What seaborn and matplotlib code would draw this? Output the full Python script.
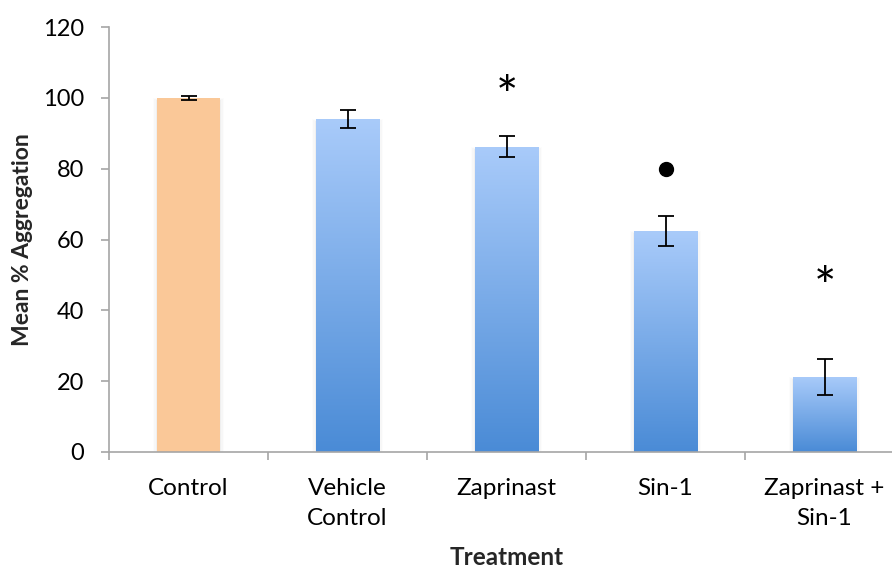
import numpy as np
import pandas as pd
import matplotlib
matplotlib.use("Agg")
import matplotlib.pyplot as plt
import matplotlib.patches as mpatches
from matplotlib.colors import LinearSegmentedColormap
import seaborn as sns

# Platelet aggregation by treatment
treatments = ["Control", "Vehicle\nControl", "Zaprinast", "Sin-1", "Zaprinast +\nSin-1"]
mean_aggregation = [100.0, 94.1, 86.2, 62.4, 21.2]
sem = [0.5, 2.6, 3.0, 4.1, 5.0]

# Significance markers drawn above bars
marker_treatments = ["Zaprinast", "Sin-1", "Zaprinast +\nSin-1"]
marker_symbols = ["*", "dot", "*"]
marker_heights = [104.0, 79.8, 50.0]

sns.set_theme(style="white")
plt.rcParams["font.family"] = ["Lato", "DejaVu Sans"]

df = pd.DataFrame({"Treatment": treatments, "Mean": mean_aggregation, "SEM": sem})

fig = plt.figure(figsize=(8.92, 5.69), dpi=100)
ax = fig.add_axes([109 / 892, 1 - 452 / 569, 795 / 892, 425 / 569])

palette = ["#fac898"] + ["#7fb0ec"] * 4
sns.barplot(data=df, x="Treatment", y="Mean", hue="Treatment", palette=palette,
            width=0.4, legend=False, ax=ax, errorbar=None, saturation=1)

ax.set_ylim(0, 120)
ax.set_xlim(-0.5, 4.5)

# Vertical gradient fill for the treatment bars, plus a faint soft shadow
grad_cmap = LinearSegmentedColormap.from_list("blue_grad", ["#4a8bd6", "#a9cbfa"])
grad = np.linspace(0, 1, 256).reshape(-1, 1)
for i, bar in enumerate(ax.patches):
    x0, w, h = bar.get_x(), bar.get_width(), bar.get_height()
    for k, a in enumerate([0.03, 0.02, 0.012]):
        d = 0.007 * (k + 1)
        ax.add_patch(mpatches.Rectangle((x0 - d, 0), w + 2 * d, h - 0.6 + 0.25 * k,
                                        facecolor="#000000", alpha=a, edgecolor="none",
                                        zorder=bar.get_zorder() - 0.1))
    bar.set_edgecolor("none")
    if i == 0:
        continue
    im = ax.imshow(grad, extent=[x0, x0 + w, 0, h], origin="lower", cmap=grad_cmap,
                   aspect="auto", zorder=bar.get_zorder() + 0.01, interpolation="bicubic")
    im.set_clip_path(bar)
ax.set_xlim(-0.5, 4.5)
ax.set_ylim(0, 120)

# Error bars
ax.errorbar(range(len(treatments)), mean_aggregation, yerr=sem, fmt="none",
            ecolor="black", elinewidth=1.3, capsize=5.5, capthick=1.3, zorder=5)

# Significance markers
pos = {t: i for i, t in enumerate(treatments)}
for t, s, hgt in zip(marker_treatments, marker_symbols, marker_heights):
    if s == "dot":
        ax.plot(pos[t], hgt, "o", color="black", markersize=10, zorder=6)
    else:
        ax.text(pos[t], hgt - 4.5, s, ha="center", va="center", fontsize=38,
                color="black", zorder=6)

# Axes styling
spine_color = "#a6a6a6"
for side in ["top", "right"]:
    ax.spines[side].set_visible(False)
for side in ["left", "bottom"]:
    ax.spines[side].set_color(spine_color)
    ax.spines[side].set_linewidth(1.2)

ax.set_yticks(np.arange(0, 121, 20))
ax.tick_params(axis="y", which="major", direction="out", length=6, width=1.2,
               color=spine_color, labelsize=17, labelcolor="black", pad=12, left=True)

ax.set_xticks(range(len(treatments)))
ax.set_xticklabels(treatments, fontsize=17.5, color="black", linespacing=1.55)
ax.set_xticks(np.arange(-0.5, 5, 1), minor=True)
ax.tick_params(axis="x", which="major", length=0, pad=18.5)
ax.tick_params(axis="x", which="minor", direction="out", length=5.5, width=1.2,
               color=spine_color, bottom=True)

ax.set_xlabel("Treatment", fontsize=17.5, fontweight="bold", labelpad=12)
ax.set_ylabel("Mean % Aggregation", fontsize=16.5, fontweight="bold", labelpad=7)

fig.savefig("out.png", dpi=100)
